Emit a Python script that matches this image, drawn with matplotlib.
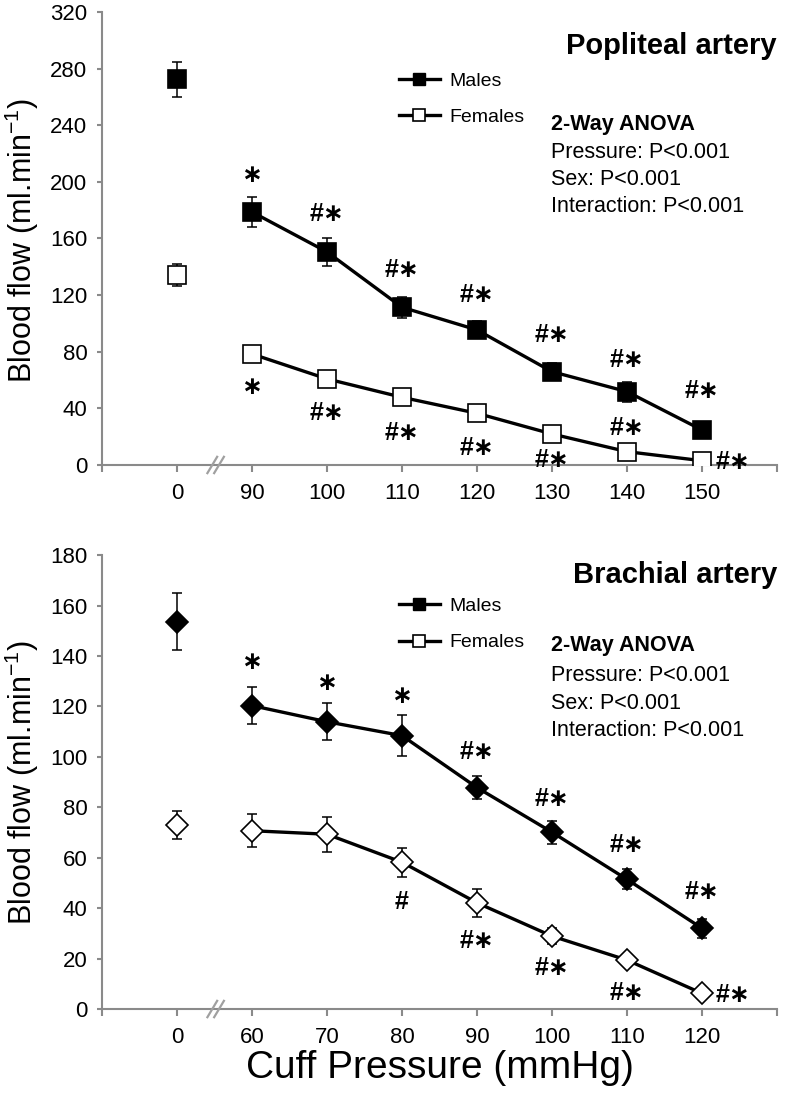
import matplotlib
matplotlib.use('Agg')
import matplotlib.pyplot as plt
import matplotlib.transforms as mtransforms
from matplotlib.lines import Line2D
import numpy as np

plt.rcParams['font.family'] = ['Liberation Sans', 'DejaVu Sans']
plt.rcParams['mathtext.fontset'] = 'custom'
plt.rcParams['mathtext.rm'] = 'Liberation Sans'
plt.rcParams['mathtext.it'] = 'Liberation Sans:italic'
plt.rcParams['mathtext.bf'] = 'Liberation Sans:bold'

# ---------------- Data ----------------
# Popliteal artery
pop_labels = ['0', '90', '100', '110', '120', '130', '140', '150']
pop_males = [272.5, 178.7, 150.5, 111.4, 95.4, 65.9, 51.8, 24.7]
pop_males_err = [12.5, 10.5, 10.0, 7.5, 6.0, 6.0, 7.0, 3.0]
pop_females = [134.2, 78.4, 60.8, 47.8, 36.5, 21.9, 9.4, 3.0]
pop_females_err = [8.0, 3.0, 3.0, 3.0, 3.0, 3.0, 3.0, 1.5]
pop_males_sig = ['', '*', '#*', '#*', '#*', '#*', '#*', '#*']
pop_males_sig_y = [0, 205, 177, 138, 120, 92, 74, 52]
pop_females_sig = ['', '*', '#*', '#*', '#*', '#*', '#*', '#*']
pop_females_sig_y = [0, 55, 36.5, 22.4, 12.0, 3.5, 26.1, 2.3]

# Brachial artery
bra_labels = ['0', '60', '70', '80', '90', '100', '110', '120']
bra_males = [153.6, 120.3, 113.9, 108.4, 87.8, 70.1, 51.4, 32.0]
bra_males_err = [11.4, 7.4, 7.4, 8.2, 4.5, 4.6, 4.0, 3.8]
bra_females = [73.0, 70.7, 69.3, 58.2, 42.1, 28.9, 19.4, 6.2]
bra_females_err = [5.6, 6.6, 7.0, 5.8, 5.5, 3.3, 2.0, 1.0]
bra_males_sig = ['', '*', '*', '*', '#*', '#*', '#*', '#*']
bra_males_sig_y = [0, 137.7, 129.1, 124.2, 102.0, 83.1, 65.0, 46.5]
bra_females_sig = ['', '', '', '#', '#*', '#*', '#*', '#*']
bra_females_sig_y = [0, 0, 0, 42.5, 27.1, 16.1, 6.2, 5.6]

AX_GREY = '#8a8a8a'
SIG_FAMILY = ['Liberation Sans', 'DejaVu Sans']

fig = plt.figure(figsize=(7.86, 11.0), dpi=100)
ax1 = fig.add_axes([0.1298, 0.5773, 0.8588, 0.4118])
ax2 = fig.add_axes([0.1298, 0.0827, 0.8588, 0.4127])


def sig_text(s):
    # asterisks shown as centred asterisk operators
    return s.replace('*', '\u2217')


def draw_panel(ax, labels, m, m_err, f, f_err, msig, msig_y, fsig, fsig_y,
               marker, msize, ymax, ystep, title, title_y, leg_y, anova_y):
    x = np.arange(len(labels))
    m = np.asarray(m); f = np.asarray(f)
    # error bars
    ax.errorbar(x, m, yerr=m_err, fmt='none', ecolor='black', elinewidth=1.1,
                capsize=3.6, capthick=1.1, zorder=2)
    ax.errorbar(x, f, yerr=f_err, fmt='none', ecolor='black', elinewidth=1.1,
                capsize=3.6, capthick=1.1, zorder=2)
    # connecting lines (0 mmHg point unconnected)
    ax.plot(x[1:], m[1:], '-', color='black', lw=2.4, zorder=3)
    ax.plot(x[1:], f[1:], '-', color='black', lw=2.4, zorder=3)
    # markers
    ax.plot(x, m, linestyle='none', marker=marker, ms=msize, mfc='black',
            mec='black', mew=1.2, zorder=4)
    ax.plot(x, f, linestyle='none', marker=marker, ms=msize, mfc='white',
            mec='black', mew=1.2, zorder=4)
    # significance labels
    for i, (s, yy) in enumerate(zip(msig, msig_y)):
        if s:
            ax.text(x[i], yy, sig_text(s), ha='center', va='center',
                    fontsize=18, fontweight='bold', family=SIG_FAMILY,
                    zorder=5)
    last = len(labels) - 1
    for i, (s, yy) in enumerate(zip(fsig, fsig_y)):
        if s:
            xx = x[i] + (0.42 if i == last else 0)
            ax.text(xx, yy, sig_text(s), ha='center', va='center',
                    fontsize=18, fontweight='bold', family=SIG_FAMILY,
                    zorder=5)

    ax.set_xlim(-1, len(labels))
    ax.set_ylim(0, ymax)
    ax.set_xticks(np.arange(-1, len(labels) + 1))
    ax.set_xticklabels([''] + labels + [''])
    ax.set_yticks(np.arange(0, ymax + 1, ystep))
    for sp in ['top', 'right']:
        ax.spines[sp].set_visible(False)
    for sp in ['left', 'bottom']:
        ax.spines[sp].set_color(AX_GREY)
        ax.spines[sp].set_linewidth(1.5)
    ax.tick_params(axis='x', length=5, width=1.5, color=AX_GREY, pad=8,
                   labelsize=16)
    ax.tick_params(axis='y', length=3.5, width=1.5, color=AX_GREY, pad=7,
                   labelsize=16)

    # axis break marks
    trans = mtransforms.blended_transform_factory(ax.transData, ax.transAxes)
    for bx in (0.47, 0.56):
        ax.plot([bx - 0.065, bx + 0.065], [-0.018, 0.018], color='#a0a0a0',
                lw=1.6, transform=trans, clip_on=False, zorder=6)

    # title
    ax.text(1.0, title_y, title, transform=ax.transAxes, ha='right',
            va='center', fontsize=21, fontweight='bold')

    # legend (squares in both panels, as in the original)
    handles = [Line2D([], [], color='black', lw=2.4, marker='s', ms=9,
                      mfc='black', mec='black'),
               Line2D([], [], color='black', lw=2.4, marker='s', ms=9,
                      mfc='white', mec='black', mew=1.2)]
    ax.legend(handles, ['Males', 'Females'], loc='center left',
              bbox_to_anchor=(0.44, leg_y), frameon=False, fontsize=14,
              handlelength=2.1, handletextpad=0.5, labelspacing=0.95,
              borderpad=0, borderaxespad=0)

    # ANOVA text
    ax.text(0.665, anova_y[0], '2-Way ANOVA', transform=ax.transAxes,
            ha='left', va='center', fontsize=15.5, fontweight='bold')
    for txt, yy in zip(['Pressure: P<0.001', 'Sex: P<0.001',
                        'Interaction: P<0.001'], anova_y[1:]):
        ax.text(0.665, yy, txt, transform=ax.transAxes, ha='left',
                va='center', fontsize=15.5)


draw_panel(ax1, pop_labels, pop_males, pop_males_err, pop_females,
           pop_females_err, pop_males_sig, pop_males_sig_y, pop_females_sig,
           pop_females_sig_y, 's', 12.5, 320, 40, 'Popliteal artery', 0.925,
           0.808, [0.752, 0.690, 0.630, 0.570])
draw_panel(ax2, bra_labels, bra_males, bra_males_err, bra_females,
           bra_females_err, bra_males_sig, bra_males_sig_y, bra_females_sig,
           bra_females_sig_y, 'D', 11.5, 180, 20, 'Brachial artery', 0.955,
           0.847, [0.800, 0.734, 0.674, 0.613])

fig.text(22 / 786, 1 - 240 / 1100, 'Blood flow (ml.min$^{-1}$)', rotation=90,
         ha='center', va='center', fontsize=22)
fig.text(22 / 786, 1 - 782 / 1100, 'Blood flow (ml.min$^{-1}$)', rotation=90,
         ha='center', va='center', fontsize=22)
fig.text(440 / 786, 1 - 1068 / 1100, 'Cuff Pressure (mmHg)', ha='center',
         va='center', fontsize=28)

fig.savefig('out.png', dpi=100)
